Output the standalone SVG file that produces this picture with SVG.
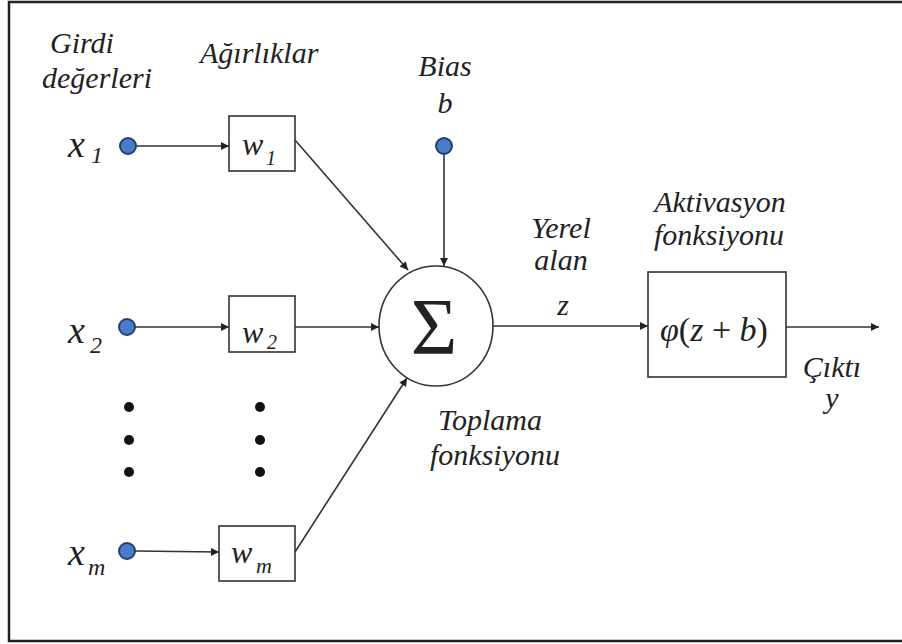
<svg xmlns="http://www.w3.org/2000/svg" width="902" height="644" viewBox="0 0 902 644">
  <style>
    text { font-family: "Liberation Serif", "Times New Roman", serif; fill: #222; }
    .lbl { font-style: italic; font-size: 30px; }
    .var { font-style: italic; }
    .box { fill: #fff; stroke: #333; stroke-width: 1.6; }
    .inp { fill: #4a7bc8; stroke: #24406a; stroke-width: 2; }
    .edge { stroke: #333; stroke-width: 1.6; fill: none; marker-end: url(#arrow); }
    .dot { fill: #111; }
  </style>
  <defs>
    <marker id="arrow" viewBox="0 0 10 10" refX="10" refY="5" markerWidth="9" markerHeight="8" markerUnits="userSpaceOnUse" orient="auto">
      <path d="M0,0 L10,5 L0,10 z" fill="#222"/>
    </marker>
  </defs>

  <rect width="902" height="644" fill="#fff"/>
  <rect x="9" y="2" width="900" height="639" fill="none" stroke="#222" stroke-width="2.5"/>

  <!-- column headings -->
  <g id="headings">
    <text class="lbl" x="50" y="53">Girdi</text>
    <text class="lbl" x="42" y="88">değerleri</text>
    <text class="lbl" x="200" y="63">Ağırlıklar</text>
  </g>

  <!-- connectors -->
  <g id="connectors">
    <line class="edge" x1="137" y1="146" x2="229" y2="146"/>
    <line class="edge" x1="135" y1="327" x2="229" y2="327"/>
    <line class="edge" x1="135" y1="551" x2="219" y2="552"/>
    <line class="edge" x1="295" y1="140" x2="408" y2="270"/>
    <line class="edge" x1="295" y1="327" x2="379" y2="327"/>
    <line class="edge" x1="295" y1="552" x2="407" y2="378"/>
    <line class="edge" x1="444" y1="154" x2="444" y2="266"/>
    <line class="edge" x1="493" y1="326" x2="648" y2="326"/>
    <line class="edge" x1="786" y1="327" x2="879" y2="327"/>
  </g>

  <!-- inputs -->
  <g id="input-x1">
    <circle class="inp" cx="128" cy="146" r="8"/>
    <text class="var" x="68" y="157" font-size="38">x</text>
    <text class="var" x="91" y="163" font-size="24">1</text>
  </g>
  <g id="input-x2">
    <circle class="inp" cx="127" cy="327" r="8"/>
    <text class="var" x="68" y="343" font-size="38">x</text>
    <text class="var" x="90" y="353" font-size="24">2</text>
  </g>
  <g id="input-xm">
    <circle class="inp" cx="127" cy="551" r="8"/>
    <text class="var" x="68" y="565" font-size="38">x</text>
    <text class="var" x="88" y="575" font-size="24">m</text>
  </g>
  <g id="input-dots">
    <circle class="dot" cx="129" cy="407" r="5"/>
    <circle class="dot" cx="129" cy="440" r="5"/>
    <circle class="dot" cx="129" cy="472" r="5"/>
  </g>

  <!-- weights -->
  <g id="weight-w1">
    <rect class="box" x="229" y="116" width="66" height="55"/>
    <text class="var" x="242" y="155" font-size="32">w</text>
    <text class="var" x="266" y="165" font-size="20">1</text>
  </g>
  <g id="weight-w2">
    <rect class="box" x="229" y="296" width="66" height="56"/>
    <text class="var" x="242" y="343" font-size="32">w</text>
    <text class="var" x="267" y="349" font-size="20">2</text>
  </g>
  <g id="weight-wm">
    <rect class="box" x="219" y="526" width="76" height="55"/>
    <text class="var" x="231" y="563" font-size="32">w</text>
    <text class="var" x="256" y="573" font-size="22">m</text>
  </g>
  <g id="weight-dots">
    <circle class="dot" cx="260" cy="407" r="5"/>
    <circle class="dot" cx="260" cy="440" r="5"/>
    <circle class="dot" cx="260" cy="472" r="5"/>
  </g>

  <!-- bias -->
  <g id="bias">
    <text class="lbl" x="445" y="76" text-anchor="middle">Bias</text>
    <text class="lbl" x="445" y="113" text-anchor="middle">b</text>
    <circle class="inp" cx="444" cy="146" r="8"/>
  </g>

  <!-- summation -->
  <g id="sum">
    <ellipse cx="436" cy="326" rx="57" ry="60" fill="#fff" stroke="#333" stroke-width="1.6"/>
    <text x="434" y="354" text-anchor="middle" font-size="80" fill="#111">Σ</text>
    <text class="lbl" x="438" y="430">Toplama</text>
    <text class="lbl" x="430" y="465">fonksiyonu</text>
  </g>

  <!-- local field -->
  <g id="local-field">
    <text class="lbl" x="561" y="238" text-anchor="middle">Yerel</text>
    <text class="lbl" x="561" y="270" text-anchor="middle">alan</text>
    <text class="lbl" x="563" y="315" text-anchor="middle">z</text>
  </g>

  <!-- activation -->
  <g id="activation">
    <text class="lbl" x="720" y="212" text-anchor="middle">Aktivasyon</text>
    <text class="lbl" x="719" y="245" text-anchor="middle">fonksiyonu</text>
    <rect class="box" x="648" y="272" width="138" height="105"/>
    <text x="714" y="341" text-anchor="middle" font-size="34" fill="#111"><tspan font-style="italic">φ</tspan>(<tspan font-style="italic">z</tspan> + <tspan font-style="italic">b</tspan>)</text>
  </g>

  <!-- output -->
  <g id="output">
    <text class="lbl" x="832" y="377" text-anchor="middle">Çıktı</text>
    <text class="lbl" x="832" y="408" text-anchor="middle">y</text>
  </g>
</svg>
